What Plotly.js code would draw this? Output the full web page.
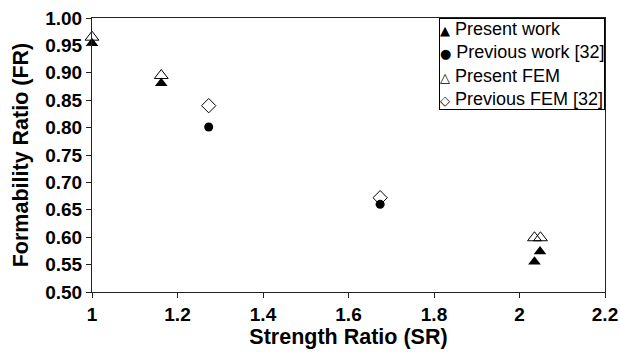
<!DOCTYPE html>
<html>
<head>
<meta charset="utf-8">
<script src="https://cdn.plot.ly/plotly-3.0.1.min.js"></script>
<style>html,body{margin:0;padding:0;background:#fff;}#chart{width:620px;height:352px;}</style>
</head>
<body>
<div id="chart"></div>
<script>
// Data
const presentWorkX = [1.0, 1.162, 2.035, 2.048];
const presentWorkY = [0.954, 0.881, 0.555, 0.574];
const previousWorkX = [1.273, 1.674];
const previousWorkY = [0.801, 0.660];
const presentFemX = [1.0, 1.162, 2.035, 2.049];
const presentFemY = [0.965, 0.895, 0.599, 0.599];
const previousFemX = [1.273, 1.674];
const previousFemY = [0.840, 0.672];
const seriesNames = ["Present work", "Previous work [32]", "Present FEM", "Previous FEM [32]"];
const legendGlyphs = ["\u25B2", "\u25CF", "\u25B3", "\u25C7"];
const yTicks = [0.50, 0.55, 0.60, 0.65, 0.70, 0.75, 0.80, 0.85, 0.90, 0.95, 1.00];
const xTicks = [1, 1.2, 1.4, 1.6, 1.8, 2, 2.2];

const FONT = "Liberation Sans, Arial, sans-serif";

const traces = [
  {x: presentWorkX, y: presentWorkY, name: seriesNames[0], type: "scatter", mode: "markers", cliponaxis: false,
   marker: {symbol: "triangle-up", size: 11, color: "#000", line: {width: 0}}},
  {x: previousWorkX, y: previousWorkY, name: seriesNames[1], type: "scatter", mode: "markers", cliponaxis: false,
   marker: {symbol: "circle", size: 9, color: "#000", line: {width: 0}}},
  {x: presentFemX, y: presentFemY, name: seriesNames[2], type: "scatter", mode: "markers", cliponaxis: false,
   marker: {symbol: "triangle-up-open", size: 12, color: "#000", line: {width: 1}}},
  {x: previousFemX, y: previousFemY, name: seriesNames[3], type: "scatter", mode: "markers", cliponaxis: false,
   marker: {symbol: "diamond-open", size: 11, color: "#000", line: {width: 1}}}
];

const legendText = seriesNames.map((n, i) =>
  '<span style="font-family:\'DejaVu Sans\';font-size:13px">' + legendGlyphs[i] + '</span> ' + n).join("<br>");

const layout = {
  width: 620, height: 352,
  margin: {l: 92, r: 15, t: 18, b: 60, pad: 0},
  paper_bgcolor: "#fff", plot_bgcolor: "#fff",
  font: {family: FONT, color: "#000"},
  showlegend: false,
  annotations: [{
    xref: "paper", yref: "paper", x: 1, y: 1, xanchor: "right", yanchor: "top",
    text: legendText, align: "left", showarrow: false,
    font: {family: FONT, size: 18, color: "#000"},
    bgcolor: "#fff", bordercolor: "#000", borderwidth: 1, borderpad: 0
  }],
  xaxis: {range: [1, 2.2], tickvals: xTicks, ticktext: xTicks.map(v => "<b>" + String(v) + "</b>"),
          showgrid: false, zeroline: false, showline: true, linecolor: "#222", linewidth: 1,
          mirror: true, ticks: "outside", ticklen: 5, tickcolor: "#222",
          tickfont: {family: FONT, size: 19},
          title: {text: "<b>Strength Ratio (SR)</b>", font: {family: FONT, size: 21.5}, standoff: 4}},
  yaxis: {range: [0.5, 1.0], tickvals: yTicks, ticktext: yTicks.map(v => "<b>" + v.toFixed(2) + "</b>"),
          showgrid: false, zeroline: false, showline: true, linecolor: "#222", linewidth: 1,
          mirror: true, ticks: "outside", ticklen: 5, tickcolor: "#222",
          tickfont: {family: FONT, size: 19},
          title: {text: "<b>Formability Ratio (FR)</b>", font: {family: FONT, size: 21.5}, standoff: 10}}
};

Plotly.newPlot("chart", traces, layout, {displayModeBar: false, staticPlot: true});
</script>
</body>
</html>
